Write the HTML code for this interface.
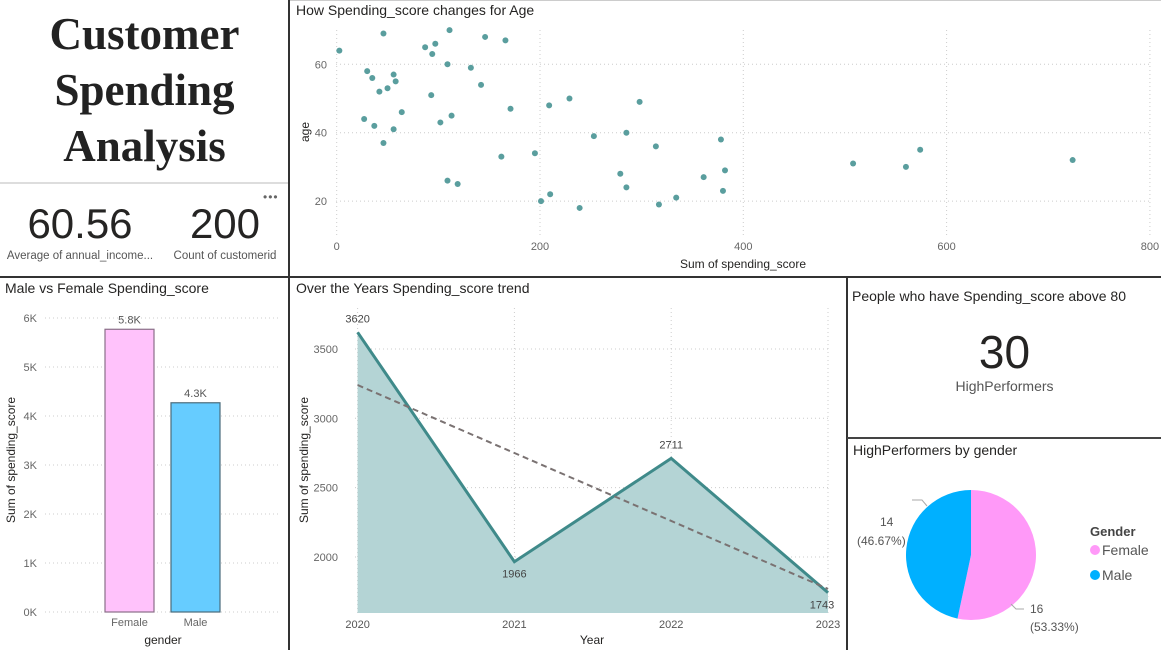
<!DOCTYPE html>
<html><head><meta charset="utf-8"><style>
body{margin:0;width:1161px;height:650px;background:#fff;font-family:"Liberation Sans",sans-serif;overflow:hidden;position:relative}
.abs{position:absolute}
.title{font-size:14px;color:#252423}
svg text{font-family:"Liberation Sans",sans-serif}
</style></head><body>
<div class="abs" style="left:0;top:6px;width:289px;text-align:center;font-family:'Liberation Serif',serif;font-weight:bold;font-size:45px;line-height:56px;color:#222">Customer<br>Spending<br>Analysis</div>
<div class="abs" style="left:0;top:182px;width:289px;height:2px;background:#ddd"></div>
<div class="abs" style="left:0;top:200px;width:160px;text-align:center"><div style="font-size:42px;color:#252423">60.56</div><div style="font-size:11.5px;color:#555;margin-top:2px">Average of annual_income...</div></div>
<div class="abs" style="left:160px;top:200px;width:130px;text-align:center"><div style="font-size:42px;color:#252423">200</div><div style="font-size:11.5px;color:#555;margin-top:2px">Count of customerid</div></div>
<div class="abs" style="left:263px;top:190px;font-size:12px;color:#666;letter-spacing:1px">•••</div>
<div class="abs" style="left:0;top:276px;width:1161px;height:2px;background:#333"></div>
<div class="abs" style="left:288px;top:0;width:2px;height:650px;background:#333"></div>
<div class="abs" style="left:846px;top:277px;width:2px;height:373px;background:#333"></div>
<div class="abs" style="left:847px;top:437px;width:314px;height:1.5px;background:#444"></div>
<div class="abs" style="left:290px;top:0;width:871px;height:1px;background:#ccc"></div>

<div class="abs title" style="left:852px;top:288px">People who have Spending_score above 80</div>
<div class="abs" style="left:848px;top:326px;width:313px;text-align:center"><div style="font-size:46px;color:#252423;line-height:52px">30</div><div style="font-size:14px;color:#555">HighPerformers</div></div>

<svg class="abs" style="left:0;top:0" width="1161" height="650">
<g id="scatter"></g>
<g id="bar"></g>
<g id="line"></g>
<g id="pie"></g>
</svg>
<script>
const NS="http://www.w3.org/2000/svg";
// scatter data
const scatterSpend=[2.6,46,30,35,42,50,56,58,27,37,56,64,46,87,94,97,109,111,93,102,113,109,119,132,142,146,166,171,162,195,209,229,201,210,239,253,285,279,285,298,314,317,334,361,378,380,382,508,560,574,724];
const scatterAge=[64,69,58,56,52,53,57,55,44,42,41,46,37,65,63,66,60,70,51,43,45,26,25,59,54,68,67,47,33,34,48,50,20,22,18,39,40,28,24,49,36,19,21,27,38,23,29,31,30,35,32];
const scatterXTicks=[0,200,400,600,800];
const scatterYTicks=[20,40,60];
// bar data
const barCats=["Female","Male"];
const barVals=[5770,4270];
const barLabels=["5.8K","4.3K"];
const barTicks=[0,1000,2000,3000,4000,5000,6000];
// line data
const years=[2020,2021,2022,2023];
const lineVals=[3620,1966,2711,1743];
const trendVals=[3240,1770];
const lineTicks=[2000,2500,3000,3500];
// pie data
const pieCats=["Female","Male"];
const pieVals=[16,14];

function mk(parent,tag,attrs,text){const e=document.createElementNS(NS,tag);for(const k in attrs)e.setAttribute(k,attrs[k]);if(text!=null)e.textContent=text;parent.appendChild(e);return e;}

// scatter
(function(){
const g=document.getElementById('scatter');
const sx=v=>336.7+v*1.0165, sy=v=>64.3+(60-v)*3.42;
mk(g,'text',{x:296,y:15,'font-size':14,fill:'#252423'},'How Spending_score changes for Age');
scatterXTicks.forEach(t=>{const l=mk(g,'line',{x1:sx(t),x2:sx(t),y1:30,y2:236,stroke:'#ccc','stroke-dasharray':'1,3'});

const tx=mk(g,'text',{x:sx(t),y:250,'text-anchor':'middle','font-size':11,fill:'#666'},t);
});
scatterYTicks.forEach(t=>{const l=mk(g,'line',{x1:336,x2:1150,y1:sy(t),y2:sy(t),stroke:'#ccc','stroke-dasharray':'1,3'});

const tx=mk(g,'text',{x:327,y:sy(t)+4,'text-anchor':'end','font-size':11,fill:'#666'},t);
});
const xt=mk(g,'text',{x:743,y:268,'text-anchor':'middle','font-size':12,fill:'#252423'},'Sum of spending_score');

const yt=mk(g,'text',{x:0,y:0,transform:'translate(309,132) rotate(-90)','text-anchor':'middle','font-size':12,fill:'#252423'},'age');

scatterSpend.forEach((v,i)=>{const c=mk(g,'circle',{cx:sx(v),cy:sy(scatterAge[i]),r:3,fill:'#5a9e9e'});
});
})();

// bar
(function(){
const g=document.getElementById('bar');
const sy=v=>612-v*0.049;
mk(g,'text',{x:5,y:293,'font-size':14,fill:'#252423'},'Male vs Female Spending_score');
barTicks.forEach(t=>{const l=mk(g,'line',{x1:45,x2:280,y1:sy(t),y2:sy(t),stroke:'#ccc','stroke-dasharray':'1,3'});

const tx=mk(g,'text',{x:37,y:sy(t)+4,'text-anchor':'end','font-size':11,fill:'#666'},(t/1000)+'K');
});
const fills=['#ffc2fb','#66ccff'], strokes=['#8a6f88','#4a6b7b'];
barCats.forEach((c,i)=>{const x=105+i*66;
const r=mk(g,'rect',{x:x,y:sy(barVals[i]),width:49,height:612-sy(barVals[i]),fill:fills[i],stroke:strokes[i],'stroke-width':1.2});

const lb=mk(g,'text',{x:x+24.5,y:sy(barVals[i])-6,'text-anchor':'middle','font-size':11,fill:'#555'},barLabels[i]);

const ct=mk(g,'text',{x:x+24.5,y:626,'text-anchor':'middle','font-size':11,fill:'#666'},c);
});
const xt=mk(g,'text',{x:163,y:644,'text-anchor':'middle','font-size':12,fill:'#252423'},'gender');

const yt=mk(g,'text',{x:0,y:0,transform:'translate(15,460) rotate(-90)','text-anchor':'middle','font-size':12,fill:'#252423'},'Sum of spending_score');

})();

// line
(function(){
const g=document.getElementById('line');
const sx=y=>357.6+(y-2020)*156.8, sy=v=>557-(v-2000)*0.1387;
const bottom=613;
mk(g,'text',{x:296,y:293,'font-size':14,fill:'#252423'},'Over the Years Spending_score trend');
lineTicks.forEach(t=>{const l=mk(g,'line',{x1:355,x2:830,y1:sy(t),y2:sy(t),stroke:'#ccc','stroke-dasharray':'1,3'});

const tx=mk(g,'text',{x:338,y:sy(t)+4,'text-anchor':'end','font-size':11,fill:'#666'},t);
});
years.forEach(y=>{const l=mk(g,'line',{x1:sx(y),x2:sx(y),y1:308,y2:bottom,stroke:'#ccc','stroke-dasharray':'1,3'});

const tx=mk(g,'text',{x:sx(y),y:628,'text-anchor':'middle','font-size':11,fill:'#555'},y);
});
let pts=years.map((y,i)=>sx(y)+','+sy(lineVals[i])).join(' ');
const a=mk(g,'polygon',{points:sx(years[0])+','+bottom+' '+pts+' '+sx(years[years.length-1])+','+bottom,fill:'#b4d4d5'});

const ln=mk(g,'polyline',{points:pts,fill:'none',stroke:'#3f8a8a','stroke-width':3,'stroke-linejoin':'miter'});

const tr=mk(g,'line',{x1:sx(years[0]),y1:sy(trendVals[0]),x2:sx(years[years.length-1]),y2:sy(trendVals[1]),stroke:'#7a7272','stroke-width':2,'stroke-dasharray':'6,4'});

const off=[-10,16,-10,16];
years.forEach((y,i)=>{const tx=mk(g,'text',{x:sx(y)+(i==3?-6:0),y:sy(lineVals[i])+off[i],'text-anchor':'middle','font-size':11,fill:'#444'},lineVals[i]);
});
const xt=mk(g,'text',{x:592,y:644,'text-anchor':'middle','font-size':12,fill:'#252423'},'Year');

const yt=mk(g,'text',{x:0,y:0,transform:'translate(308,460) rotate(-90)','text-anchor':'middle','font-size':12,fill:'#252423'},'Sum of spending_score');

})();

// pie
(function(){
const g=document.getElementById('pie');
mk(g,'text',{x:853,y:455,'font-size':14,fill:'#252423'},'HighPerformers by gender');
const cx=971,cy=555,r=65,cols=['#ff99f8','#00b0ff'];
const tot=pieVals.reduce((a,b)=>a+b,0);let ang=0;
pieVals.forEach((v,i)=>{const a0=ang,a1=ang+v/tot*2*Math.PI;ang=a1;
const p=(a)=>[cx+r*Math.sin(a),cy-r*Math.cos(a)];
const [x0,y0]=p(a0),[x1,y1]=p(a1);
const s=mk(g,'path',{d:`M${cx},${cy} L${x0},${y0} A${r},${r} 0 ${a1-a0>Math.PI?1:0} 1 ${x1},${y1} Z`,fill:cols[i]});
});
mk(g,'polyline',{points:'912,500 922,500 927,506',fill:'none',stroke:'#aaa'});
mk(g,'polyline',{points:'1011,604 1016,609 1024,609',fill:'none',stroke:'#aaa'});
const l1=mk(g,'text',{x:880,y:526,'font-size':12,fill:'#555'},pieVals[1]);
const l1b=mk(g,'text',{x:857,y:545,'font-size':12,fill:'#555'},'('+(pieVals[1]/tot*100).toFixed(2)+'%)');
const l2=mk(g,'text',{x:1030,y:613,'font-size':12,fill:'#555'},pieVals[0]);
const l2b=mk(g,'text',{x:1030,y:631,'font-size':12,fill:'#555'},'('+(pieVals[0]/tot*100).toFixed(2)+'%)');
[l1,l1b,l2,l2b].forEach(e=>{});
const lt=mk(g,'text',{x:1090,y:536,'font-size':13,'font-weight':'bold',fill:'#444'},'Gender');

pieCats.forEach((c,i)=>{const y=554+i*25;
const d=mk(g,'circle',{cx:1095,cy:y-4,r:5,fill:cols[i]});

const t=mk(g,'text',{x:1102,y:y+1,'font-size':14,fill:'#555'},c);
});
})();
</script>
</body></html>
